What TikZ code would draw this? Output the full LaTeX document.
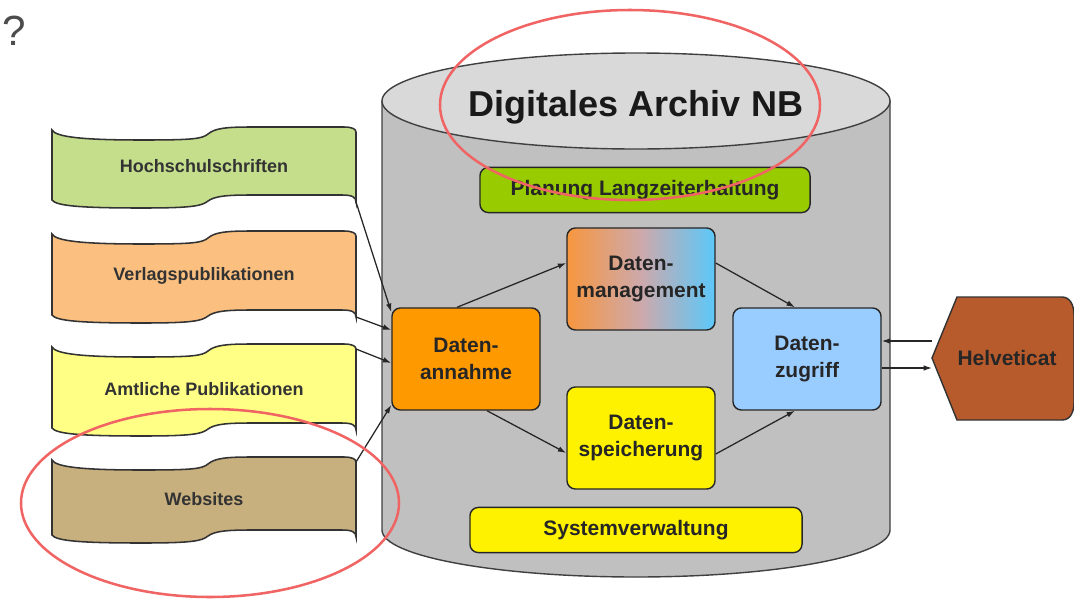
\documentclass[tikz,border=0pt]{standalone}
\usepackage{fontspec}
\setmainfont{Liberation Sans}
\usepackage{xcolor}
\usetikzlibrary{arrows.meta,calc}

\definecolor{tapegreen}{HTML}{C4DE8C}
\definecolor{tapeorange}{HTML}{FBC07F}
\definecolor{tapeyellow}{HTML}{FFFF85}
\definecolor{tapetan}{HTML}{C8AF7E}
\definecolor{archivgray}{HTML}{C0C0C0}
\definecolor{archivtop}{HTML}{D9D9D9}
\definecolor{planung}{HTML}{99CC00}
\definecolor{annahme}{HTML}{FF9900}
\definecolor{zugriff}{HTML}{99CCFF}
\definecolor{mgmtblue}{HTML}{5BC8FA}
\definecolor{mgmtorange}{HTML}{F7963F}
\definecolor{mgmtmid}{HTML}{CDA9AC}
\definecolor{helvbrown}{HTML}{B75A2C}
\definecolor{markred}{HTML}{F06464}

\begin{document}
\begin{tikzpicture}[x=0.025cm, y=-0.025cm,
    box/.style={draw=black!85, line width=1pt, rounded corners=6pt, align=center,
      inner sep=0pt, text=black!85, font=\bfseries\fontsize{14.9}{19}\selectfont},
    bigbox/.style={box, minimum width=3.7cm, minimum height=2.55cm},
    flatbox/.style={box, minimum height=1.13cm},
    flow/.style={-{Latex[length=6pt,width=4pt]}, line width=0.9pt, black!85},
    tape/.style={draw=black!80, line width=1.1pt},
    tapetext/.style={font=\bfseries\fontsize{12.8}{15}\selectfont, text=black!80},
    redring/.style={draw=markred, line width=1.8pt}]
  \useasboundingbox (0,0) rectangle (1074,599);

  \node[text=black!70, font=\fontsize{30}{30}\selectfont] (frage) at (14,31) {?};

  % archive cylinder
  \filldraw[fill=archivgray, draw=black!75, line width=1pt]
    (382,101) -- (382,530) arc[start angle=180, end angle=0, x radius=254, y radius=47]
    -- (890,101) -- cycle;
  \filldraw[fill=archivtop, draw=black!75, line width=1pt]
    (636,101) ellipse[x radius=254, y radius=48];
  \node[text=black!90, font=\bfseries\fontsize{25.6}{30}\selectfont] (titel) at (636,107) {Digitales Archiv NB};

  \node[flatbox, fill=planung, minimum width=8.25cm] (planung) at (645,190) {Planung Langzeiterhaltung};
  \node[flatbox, fill=yellow, minimum width=8.3cm] (system) at (636,530) {Systemverwaltung};

  \node[bigbox, fill=annahme] (annahme) at (466,359) {Daten-\\annahme};
  \node[bigbox, left color=mgmtorange, right color=mgmtblue, middle color=mgmtmid] (mgmt) at (641,279) {Daten-\\management};
  \node[bigbox, fill=yellow] (speich) at (641,438) {Daten-\\speicherung};
  \node[bigbox, fill=zugriff] (zugriff) at (807,359) {Daten-\\zugriff};

  \draw[flow] ($(annahme.north)+(-9,0)$) -- ($(mgmt.west)+(0,-16)$);
  \draw[flow] ($(annahme.south)+(21,0)$) -- ($(speich.west)+(0,15)$);
  \draw[flow] ($(mgmt.east)+(0,-16)$) -- ($(zugriff.north)+(-12,0)$);
  \draw[flow] ($(speich.east)+(0,16)$) -- ($(zugriff.south)+(-12,0)$);

  % source tapes
  \foreach \nm/\yt/\h/\col/\txt in {hs/125/75/tapegreen/Hochschulschriften,
      vp/229/86/tapeorange/Verlagspublikationen,
      ap/342/86/tapeyellow/Amtliche Publikationen,
      ws/455/80/tapetan/Websites} {
    \begin{scope}[shift={(52,\yt)}]
      \filldraw[tape, fill=\col] (0,5) .. controls (4,12) and (30,15) .. (90,15)
        .. controls (140,15) and (150,14) .. (156,9) .. controls (163,3) and (175,2) .. (200,2)
        -- (292,2) .. controls (300,2) and (304,4) .. (304,7) -- (304,\h+2)
        .. controls (304,\h-3) and (300,\h-5) .. (290,\h-5) -- (200,\h-5)
        .. controls (175,\h-5) and (163,\h-4) .. (156,\h+1)
        .. controls (150,\h+6) and (140,\h+8) .. (90,\h+8)
        .. controls (30,\h+8) and (4,\h+6) .. (0,\h) -- cycle;
      \node[tapetext] (\nm) at (152,\h/2+4) {\txt};
      \coordinate (\nm-ne) at (304,7);
      \coordinate (\nm-se) at (304,\h+2);
    \end{scope}
  }

  \draw[flow] (hs-se) -- ($(annahme.west)+(0,-47)$);
  \draw[flow] (vp-se) -- ($(annahme.west)+(0,-29)$);
  \draw[flow] (ap-ne) -- ($(annahme.west)+(0,4)$);
  \draw[flow] (ws-ne) -- ($(annahme.west)+(0,46)$);

  % catalogue
  \filldraw[draw=black!80, line width=1pt, fill=helvbrown] (932,358) -- (957,297) -- (1062,297)
    .. controls (1070,297) and (1074,305) .. (1074,315) -- (1074,402)
    .. controls (1074,413) and (1070,420) .. (1062,420) -- (957,420) -- cycle;
  \node[text=black!85, font=\bfseries\fontsize{14.9}{19}\selectfont] (helv) at (1007,358) {Helveticat};
  \coordinate (helv-in) at (932,341);
  \coordinate (helv-out) at (932,368);
  \draw[flow] (helv-in) -- (zugriff.east |- helv-in);
  \draw[flow] (zugriff.east |- helv-out) -- (helv-out);

  % highlights
  \draw[redring] (630,105) ellipse[x radius=190, y radius=95];
  \draw[redring] (210,503) ellipse[x radius=189, y radius=94];
\end{tikzpicture}
\end{document}
